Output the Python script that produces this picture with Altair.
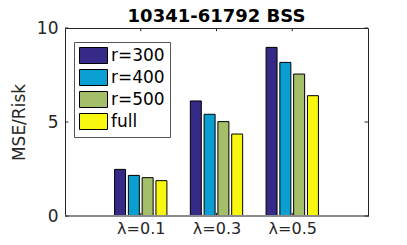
import json
import altair as alt
import pandas as pd

groups = ["λ=0.1", "λ=0.3", "λ=0.5"]
series = ["r=300", "r=400", "r=500", "full"]
colors = ["#352A87", "#0A9FD3", "#A5BE6A", "#F7F70F"]
r300 = [2.48, 6.12, 8.97]
r400 = [2.16, 5.41, 8.17]
r500 = [2.04, 5.02, 7.55]
full = [1.88, 4.36, 6.40]
y_ticks = [0, 5, 10]
x_ticks = [1, 2, 3]

rows = []
for si, (name, vals) in enumerate(zip(series, [r300, r400, r500, full])):
    for gi, v in enumerate(vals):
        rows.append({"series": name, "s": si, "g": gi + 1, "value": v})
df = pd.DataFrame(rows)
ydf = pd.DataFrame({"t": y_ticks})
xdf = pd.DataFrame({"t": x_ticks})
one = pd.DataFrame({"k": [0]})

FONT = "DejaVu Sans"
TXT = "#262626"
x_scale = alt.Scale(domain=[0, 4], nice=False, zero=False)
y_scale = alt.Scale(domain=[0, 10], nice=False, zero=False)

label_expr = "%s[datum.value - 1]" % json.dumps(groups, ensure_ascii=False)

bars = alt.Chart(df).transform_calculate(
    x0="datum.g + (datum.s - 1.5) * 0.182 - 0.0725",
    x1="datum.g + (datum.s - 1.5) * 0.182 + 0.0725",
).mark_bar(stroke="black", strokeWidth=1, opacity=1).encode(
    x=alt.X("x0:Q", scale=x_scale,
            axis=alt.Axis(values=x_ticks, labelExpr=label_expr, title=None,
                          ticks=False, domain=False, grid=False,
                          labelFont=FONT, labelFontSize=16, labelColor=TXT,
                          labelPadding=4)),
    x2="x1:Q",
    y=alt.Y("value:Q", scale=y_scale,
            axis=alt.Axis(values=y_ticks, title="MSE/Risk", ticks=False,
                          domain=False, grid=False, labelFont=FONT,
                          labelFontSize=17, labelColor=TXT, labelPadding=7,
                          titleFont=FONT, titleFontSize=17, titleColor=TXT,
                          titleFontWeight="normal", titlePadding=8)),
    y2=alt.datum(0),
    color=alt.Color("series:N", sort=series,
                    scale=alt.Scale(domain=series, range=colors),
                    legend=alt.Legend(orient="none", legendX=9, legendY=14,
                                      title=None,
                                      symbolType="M-1,-1H2.5V1H-1Z",
                                      symbolSize=256, symbolStrokeColor="black",
                                      symbolStrokeWidth=1, symbolOpacity=1,
                                      labelFont=FONT, labelFontSize=17,
                                      labelColor="black", labelOffset=15,
                                      fillColor="white", strokeColor="#555555",
                                      padding=5, rowPadding=1)),
)

def rule(df_, color=TXT, width=1, **enc):
    return alt.Chart(df_).mark_rule(color=color, strokeWidth=width).encode(**enc)

base = rule(one, color="#8c8c8c", width=2,
            y=alt.datum(0), x=alt.datum(0), x2=alt.datum(4))
yl = rule(ydf, y=alt.Y("t:Q", scale=y_scale), x=alt.datum(0), x2=alt.datum(0.045))
yr = rule(ydf, y=alt.Y("t:Q", scale=y_scale), x=alt.datum(3.955), x2=alt.datum(4))
xt = rule(xdf, x=alt.X("t:Q", scale=x_scale), y=alt.datum(10), y2=alt.datum(9.83))
xb = rule(xdf, x=alt.X("t:Q", scale=x_scale), y=alt.datum(0), y2=alt.datum(0.17))

chart = alt.layer(xb, bars, base, yl, yr, xt).properties(
    width=303, height=188,
    title=alt.TitleParams("10341-61792 BSS", font=FONT, fontSize=18,
                          fontWeight="bold", color="black", offset=4, dy=11),
    autosize=alt.AutoSizeParams(type="none"),
    padding={"left": 57, "top": 20, "right": 20, "bottom": 21},
).configure_view(stroke=TXT, strokeWidth=1)

chart.save("out.html", embed_options={"renderer": "svg", "actions": False})
